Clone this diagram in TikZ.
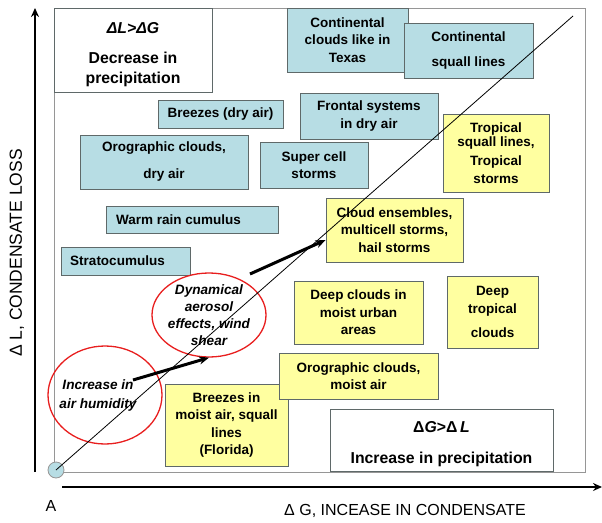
\documentclass[tikz,border=0pt]{standalone}
\usepackage{fontspec}
\setmainfont{Liberation Sans}
\usetikzlibrary{arrows.meta,shapes.geometric}
\definecolor{cloudblue}{RGB}{183,221,228}
\definecolor{cloudyellow}{RGB}{255,255,160}
\definecolor{boxedge}{RGB}{95,105,105}
\definecolor{framegray}{RGB}{150,150,150}
\definecolor{ringred}{RGB}{232,30,30}

\begin{document}
\begin{tikzpicture}[x=1pt,y=-1pt,>=Stealth,
  every node/.style={font=\fontsize{13.5}{17.5}\selectfont\bfseries,align=center,inner sep=0pt},
  dry/.style={draw=boxedge,line width=0.8pt,fill=cloudblue},
  moist/.style={draw=boxedge,line width=0.8pt,fill=cloudyellow},
  regime/.style={draw=boxedge,line width=0.8pt,fill=white,font=\fontsize{15.8}{20}\selectfont\bfseries},
  ring/.style={draw=ringred,ellipse,line width=1.3pt,inner sep=-8pt,font=\fontsize{13.6}{17}\selectfont\bfseries\itshape},
  push/.style={-{Stealth[length=10pt,width=8pt]},line width=3pt},
  axis/.style={-{Stealth[length=9pt,width=8pt]},line width=2.4pt}]
\useasboundingbox (0,0) rectangle (602,522);
\draw[framegray,line width=0.8pt] (54,8) rectangle (585,472);

% dry air regimes
\node[dry,minimum width=121pt,minimum height=64pt] (texas) at (347.5,40) {Continental\\ clouds like in\\ Texas};
\node[dry,minimum width=129pt,minimum height=55pt] (squall) at (468.5,50.5) {Continental\\[7.5pt] squall lines};
\node[dry,minimum width=125pt,minimum height=28pt] (breezedry) at (220.5,114) {Breezes (dry air)};
\node[dry,minimum width=138pt,minimum height=46pt] (frontal) at (369,116) {Frontal systems\\ in dry air};
\node[dry,minimum width=168pt,minimum height=54pt] (orodry) at (164,162) {Orographic clouds,\\[9.5pt] dry air};
\node[dry,minimum width=108pt,minimum height=46pt] (supercell) at (314,165) {Super cell\\ storms};
\node[dry,minimum width=172pt,minimum height=27pt] (warmrain) at (192,219.5) {Warm rain cumulus\hspace*{27pt}};
\node[dry,minimum width=129pt,minimum height=28pt] (strato) at (125.5,261) {Stratocumulus\hspace*{16pt}};

% moist air regimes
\node[moist,minimum width=106pt,minimum height=78pt] (tropsquall) at (496,153) {Tropical\\[-4pt] squall lines,\\[2pt] Tropical\\ storms};
\node[moist,minimum width=137pt,minimum height=64pt] (ensembles) at (394.5,230) {Cloud ensembles,\\ multicell storms,\\ hail storms};
\node[moist,minimum width=129pt,minimum height=63pt] (deepurban) at (358.5,312.5) {Deep clouds in\\ moist urban\\ areas};
\node[moist,minimum width=91pt,minimum height=72pt] (deeptrop) at (492.5,312) {Deep\\ tropical\\[7pt] clouds};
\node[moist,minimum width=123pt,minimum height=82pt] (florida) at (226.5,425) {Breezes in\\ moist air, squall\\ lines\\ (Florida)};
\node[moist,minimum width=159pt,minimum height=46pt] (oromoist) at (358.5,376) {Orographic clouds,\\ moist air};

% balance boxes
\node[regime,minimum width=158pt,minimum height=84pt] (lossgain) at (133,50) {\rule{0pt}{20pt}\textit{ΔL>ΔG}\\[10pt] Decrease in\\ precipitation};
\node[regime,minimum width=223pt,minimum height=62pt] (gainloss) at (441.5,440) {\rule{0pt}{19pt}Δ\textit{G}>Δ\,\textit{L}\\[11pt] Increase in precipitation};

% transitions
\node[ring,minimum width=114pt,minimum height=98pt] (humid) at (105,395) {Increase in\hspace*{14pt}\\[2pt] air humidity\hspace*{14pt}};
\node[ring,minimum width=114pt,minimum height=84pt] (dyn) at (209,315) {Dynamical\\ aerosol\\ effects, wind\\ shear};

\node[circle,draw=framegray,fill=cloudblue,line width=0.8pt,minimum size=16pt] (origin) at (56,470) {};
\coordinate (diagend) at (573,16);
\draw[line width=0.8pt] (origin.center) -- (diagend);

\coordinate (p1) at (133,380);
\coordinate (p2) at (250,274);
\draw[push] (p1) -- (dyn.south);
\draw[push] (p2) -- ([yshift=-10pt]ensembles.west);

% axes
\coordinate (yfoot) at (35,472);
\coordinate (ytip) at (35,8);
\coordinate (xfoot) at (62,487);
\coordinate (xtip) at (602,487);
\draw[axis] (yfoot) -- (ytip);
\draw[axis] (xfoot) -- (xtip);
\node[font=\fontsize{16}{16}\selectfont] (alab) at (51,506) {A};
\node[font=\fontsize{16}{16}\selectfont] (xlab) at (405,511) {Δ G, INCEASE IN CONDENSATE};
\node[rotate=90,font=\fontsize{17.5}{17.5}\selectfont] (ylab) at (17,253) {Δ L, CONDENSATE LOSS};
\end{tikzpicture}
\end{document}
